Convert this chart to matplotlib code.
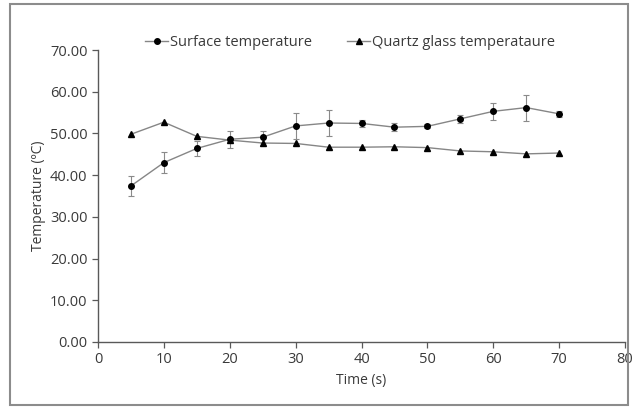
import matplotlib
matplotlib.use("Agg")
import matplotlib.pyplot as plt
from matplotlib.patches import Rectangle

# data
time_s = [5, 10, 15, 20, 25, 30, 35, 40, 45, 50, 55, 60, 65, 70]
surface_temp = [37.4, 43.0, 46.4, 48.6, 49.1, 51.8, 52.5, 52.4, 51.5, 51.7, 53.5, 55.3, 56.2, 54.7]
surface_err = [2.4, 2.6, 1.9, 2.0, 1.5, 3.1, 3.2, 0.9, 1.0, 0.5, 1.0, 2.1, 3.1, 0.7]
quartz_temp = [49.8, 52.7, 49.3, 48.4, 47.7, 47.6, 46.7, 46.7, 46.8, 46.6, 45.8, 45.6, 45.1, 45.3]
y_ticks = [0, 10, 20, 30, 40, 50, 60, 70]
x_ticks = [0, 10, 20, 30, 40, 50, 60, 70, 80]

plt.rcParams['font.family'] = ['Open Sans', 'DejaVu Sans']
text_col = '#3a3a3a'
line_col = '#868686'

fig = plt.figure(figsize=(6.32, 4.07), dpi=100)
fig.patches.append(Rectangle((0.016, 0.005), 0.978, 0.985, transform=fig.transFigure,
                             fill=False, edgecolor='#8c8c8c', linewidth=1.5))
ax = fig.add_axes([0.155, 0.160, 0.834, 0.717])

eb = ax.errorbar(time_s, surface_temp, yerr=surface_err, color=line_col, linewidth=1.0,
                 marker='o', markersize=4, markerfacecolor='black', markeredgecolor='black',
                 ecolor='#8a8a8a', elinewidth=0.8, capsize=2, capthick=0.8)
qz, = ax.plot(time_s, quartz_temp, color=line_col, linewidth=1.0,
              marker='^', markersize=4.5, markerfacecolor='black', markeredgecolor='black')

ax.set_xlim(0, 80)
ax.set_ylim(0, 70)
ax.set_xticks(x_ticks)
ax.set_yticks(y_ticks)
ax.set_yticklabels(['%.2f' % v for v in y_ticks])
ax.tick_params(colors='#595959', labelcolor=text_col, labelsize=10.5, length=4, width=0.9)
for s in ['top', 'right']:
    ax.spines[s].set_visible(False)
for s in ['left', 'bottom']:
    ax.spines[s].set_color('#595959')
    ax.spines[s].set_linewidth(1.0)

ax.set_xlabel('Time (s)', color=text_col, fontsize=10, labelpad=4)
ax.set_ylabel('Temperature (ºC)', color=text_col, fontsize=10, labelpad=3)

ax.legend([eb[0], qz], ['Surface temperature', 'Quartz glass temperataure'],
          loc='center', bbox_to_anchor=(0.478, 1.025), ncol=2, frameon=False,
          fontsize=10.5, handlelength=1.6, handletextpad=0.1, columnspacing=2.4,
          labelcolor=text_col)

fig.savefig('out.png', dpi=100)
